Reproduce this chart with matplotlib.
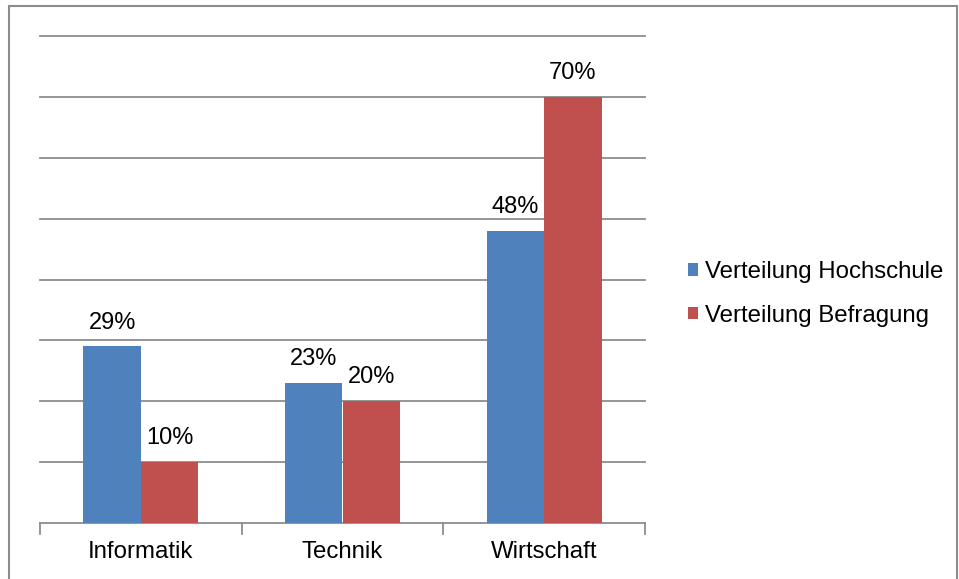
import numpy as np
import matplotlib.pyplot as plt
from matplotlib.patches import Rectangle

plt.rcParams['font.family'] = ['Liberation Sans', 'DejaVu Sans']

categories = ["Informatik", "Technik", "Wirtschaft"]
hochschule = [0.29, 0.23, 0.48]
befragung = [0.10, 0.20, 0.70]
series_names = ["Verteilung Hochschule", "Verteilung Befragung"]

blue = "#4F81BD"
red = "#C0504D"
grid_col = "#8c8c8c"

W, H = 959, 579
fig = plt.figure(figsize=(W / 100, H / 100), dpi=100)
ax = fig.add_axes([40 / W, 1 - 523 / H, (645 - 40) / W, (523 - 36) / H])

x = np.arange(len(categories))
bw = 0.285
b1 = ax.bar(x - bw / 2, hochschule, bw, color=blue, label=series_names[0], zorder=3)
b2 = ax.bar(x + bw / 2, befragung, bw, color=red, label=series_names[1], zorder=3)

for bars, vals in [(b1, hochschule), (b2, befragung)]:
    for b, v in zip(bars, vals):
        ax.text(b.get_x() + b.get_width() / 2, v + 0.021, f"{v * 100:.0f}%",
                ha="center", va="bottom", fontsize=17)

ax.set_xlim(-0.5, len(categories) - 0.5)
ax.set_ylim(0, 0.8)
ax.set_yticks([])
for level in np.arange(0.1, 0.81, 0.1):
    ax.axhline(level, color=grid_col, lw=1.3, zorder=0, clip_on=False)
ax.tick_params(axis="y", length=0, labelleft=False)

ax.set_xticks(x)
ax.set_xticklabels(categories, fontsize=17.3)
ax.tick_params(axis="x", length=0, pad=13)
for b in np.arange(-0.5, len(categories), 1.0):
    ax.plot([b, b], [0, -0.018], color=grid_col, lw=1.3, clip_on=False)

for s in ["top", "right", "left"]:
    ax.spines[s].set_visible(False)
ax.spines["bottom"].set_color(grid_col)
ax.spines["bottom"].set_linewidth(1.3)

fig.legend(handles=[b1, b2], labels=series_names, loc="center left",
           bbox_to_anchor=(676 / W, 1 - 294 / H), frameon=False, fontsize=17.3,
           handlelength=0.42, handleheight=0.42, handletextpad=0.3,
           labelspacing=0.9, borderpad=0)

fig.patches.append(Rectangle((9 / W, -0.01), (957 - 9) / W, 1 - 6 / H + 0.01,
                             transform=fig.transFigure, fill=False,
                             edgecolor="#8c8c8c", lw=1.5))

fig.savefig("out.png", dpi=100)
